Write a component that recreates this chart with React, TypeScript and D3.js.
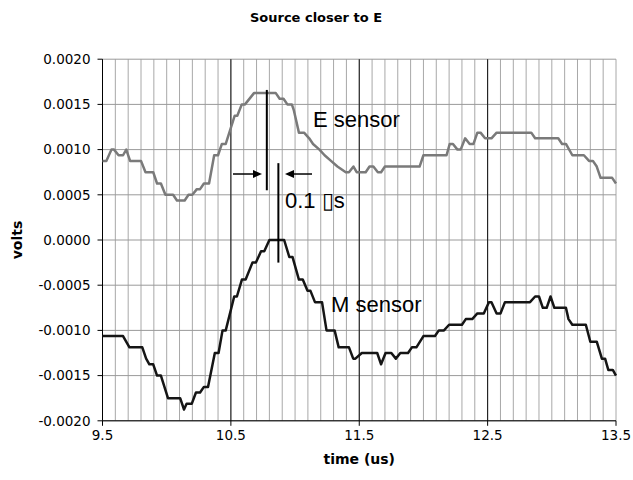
import React from "react";
import * as d3 from "d3";

const chartTitle = "Source closer to E";
const xTitle = "time (us)";
const yTitle = "volts";
const xTicks = [9.5, 10.5, 11.5, 12.5, 13.5];
const yTicks = [0.002, 0.0015, 0.001, 0.0005, 0, -0.0005, -0.001, -0.0015, -0.002];
const majorX = [10.5, 11.5, 12.5];

const eTime = [9.5, 9.53, 9.57, 9.59, 9.625, 9.66, 9.685, 9.715, 9.8, 9.835, 9.895, 9.925, 9.955, 9.99, 10.05, 10.08, 10.14, 10.17, 10.2, 10.235, 10.26, 10.29, 10.33, 10.37, 10.4, 10.43, 10.46, 10.53, 10.55, 10.585, 10.61, 10.68, 10.85, 10.88, 10.91, 10.94, 10.975, 10.99, 11.03, 11.07, 11.11, 11.14, 11.19, 11.23, 11.28, 11.33, 11.395, 11.42, 11.455, 11.48, 11.55, 11.58, 11.61, 11.645, 11.67, 11.7, 11.97, 12.0, 12.18, 12.205, 12.23, 12.265, 12.29, 12.325, 12.36, 12.39, 12.42, 12.445, 12.48, 12.53, 12.57, 12.84, 12.87, 13.05, 13.08, 13.11, 13.16, 13.25, 13.29, 13.32, 13.35, 13.38, 13.47, 13.5];
const eVolts = [0.000875, 0.000875, 0.001, 0.001, 0.0009375, 0.0009375, 0.001, 0.000875, 0.000875, 0.00075, 0.00075, 0.000625, 0.000625, 0.0005, 0.0005, 0.0004375, 0.0004375, 0.0005, 0.0005, 0.0005625, 0.0005625, 0.000625, 0.000625, 0.0009375, 0.0009375, 0.0010625, 0.0010625, 0.001375, 0.001375, 0.0015, 0.0015, 0.001625, 0.001625, 0.0015625, 0.0015625, 0.0015, 0.0015, 0.0014375, 0.0011875, 0.0011875, 0.001125, 0.0010625, 0.001, 0.0009375, 0.000875, 0.0008125, 0.00075, 0.00075, 0.0008125, 0.00075, 0.00075, 0.0008125, 0.0008125, 0.00075, 0.00075, 0.0008125, 0.0008125, 0.0009375, 0.0009375, 0.0010625, 0.0010625, 0.001, 0.001, 0.001125, 0.0010625, 0.0010625, 0.0011875, 0.0011875, 0.001125, 0.001125, 0.0011875, 0.0011875, 0.001125, 0.001125, 0.0010625, 0.0010625, 0.0009375, 0.0009375, 0.000875, 0.000875, 0.0008125, 0.0006875, 0.0006875, 0.000625];

const mTime = [9.5, 9.66, 9.71, 9.81, 9.84, 9.865, 9.895, 9.925, 9.955, 10.01, 10.105, 10.135, 10.155, 10.195, 10.228, 10.26, 10.29, 10.322, 10.375, 10.404, 10.435, 10.46, 10.526, 10.547, 10.586, 10.615, 10.668, 10.695, 10.735, 10.76, 10.8, 10.915, 10.955, 10.98, 11.03, 11.06, 11.097, 11.12, 11.155, 11.21, 11.245, 11.308, 11.34, 11.42, 11.453, 11.47, 11.52, 11.64, 11.67, 11.705, 11.75, 11.785, 11.82, 11.88, 11.91, 11.945, 12.0, 12.09, 12.12, 12.16, 12.2, 12.3, 12.33, 12.38, 12.42, 12.47, 12.51, 12.53, 12.57, 12.6, 12.635, 12.83, 12.87, 12.9, 12.93, 12.96, 12.99, 13.02, 13.11, 13.13, 13.16, 13.265, 13.3, 13.35, 13.39, 13.415, 13.44, 13.475, 13.5];
const mVolts = [-0.0010625, -0.0010625, -0.0011875, -0.0011875, -0.0013125, -0.001375, -0.001375, -0.0015, -0.0015, -0.00175, -0.00175, -0.001875, -0.0018125, -0.0018125, -0.0016875, -0.0016875, -0.001625, -0.001625, -0.00125, -0.00125, -0.001, -0.001, -0.000625, -0.000625, -0.0004375, -0.0004375, -0.00025, -0.00025, -0.000125, -0.000125, 0, 0, -0.0001875, -0.0001875, -0.0004375, -0.0004375, -0.0005625, -0.0005625, -0.0006875, -0.0006875, -0.001, -0.001, -0.0011875, -0.0011875, -0.0013125, -0.0013125, -0.00125, -0.00125, -0.001375, -0.00125, -0.00125, -0.0013125, -0.00125, -0.00125, -0.0011875, -0.0011875, -0.0010625, -0.0010625, -0.001, -0.001, -0.0009375, -0.0009375, -0.000875, -0.000875, -0.0008125, -0.0008125, -0.0006875, -0.0006875, -0.0008125, -0.0008125, -0.0006875, -0.0006875, -0.000625, -0.000625, -0.00075, -0.00075, -0.000625, -0.00075, -0.00075, -0.000875, -0.0009375, -0.0009375, -0.001125, -0.001125, -0.0013125, -0.0013125, -0.0014375, -0.0014375, -0.0015];

const W = 633;
const H = 480;
const left = 102.5;
const right = 616;
const top = 59.2;
const bottom = 420.8;

export default function App() {
  const x = d3.scaleLinear().domain([9.5, 13.5]).range([left, right]);
  const y = d3.scaleLinear().domain([-0.002, 0.002]).range([bottom, top]);
  const minorX = d3.range(0, 41).map((i) => 9.5 + i * 0.1);
  const line = d3
    .line<[number, number]>()
    .x((d) => x(d[0]))
    .y((d) => y(d[1]));
  const ePts = eTime.map((t, i) => [t, eVolts[i]] as [number, number]);
  const mPts = mTime.map((t, i) => [t, mVolts[i]] as [number, number]);
  const fmt = (v: number) => d3.format(".4f")(v).replace("\u2212", "-");
  const tickFont = "Verdana, 'DejaVu Sans', sans-serif";
  const annFont = "Arial, 'Liberation Sans', sans-serif";

  // annotation geometry (data coordinates)
  const v1x = x(10.78);
  const v2x = x(10.87);
  const arrowY = y(0.00073);

  return (
    <svg
      width={W}
      height={H}
      style={{ position: "absolute", left: 0, top: 0, background: "#fff" }}
    >
      <rect x={0} y={0} width={W} height={H} fill="#fff" />
      {minorX.map((t, i) => (
        <line
          key={"mx" + i}
          x1={x(t)}
          x2={x(t)}
          y1={top}
          y2={bottom}
          stroke="#a8a8a8"
          strokeWidth={1}
        />
      ))}
      {yTicks.map((v, i) => (
        <line
          key={"hy" + i}
          x1={left}
          x2={right}
          y1={y(v)}
          y2={y(v)}
          stroke="#9a9a9a"
          strokeWidth={1}
        />
      ))}
      {majorX.map((t, i) => (
        <line
          key={"Mx" + i}
          x1={x(t)}
          x2={x(t)}
          y1={top}
          y2={bottom}
          stroke="#111"
          strokeWidth={1}
        />
      ))}
      <line x1={left} x2={left} y1={top} y2={bottom} stroke="#000" strokeWidth={1} />
      <line x1={left} x2={right} y1={bottom} y2={bottom} stroke="#000" strokeWidth={1} />
      {yTicks.map((v, i) => (
        <g key={"yt" + i}>
          <line x1={left - 5} x2={left} y1={y(v)} y2={y(v)} stroke="#000" />
          <text
            x={left - 12}
            y={y(v)}
            dy="0.35em"
            textAnchor="end"
            fontFamily={tickFont}
            fontSize={13.5}
            fill="#000"
          >
            {fmt(v)}
          </text>
        </g>
      ))}
      {xTicks.map((t, i) => (
        <g key={"xt" + i}>
          <line x1={x(t)} x2={x(t)} y1={bottom} y2={bottom + 5} stroke="#000" />
          <text
            x={x(t)}
            y={bottom + 19}
            textAnchor="middle"
            fontFamily={tickFont}
            fontSize={13.5}
            fill="#000"
          >
            {t.toFixed(1)}
          </text>
        </g>
      ))}
      <path d={line(ePts) || ""} fill="none" stroke="#7a7a7a" strokeWidth={2.5} strokeLinejoin="round" />
      <path d={line(mPts) || ""} fill="none" stroke="#151515" strokeWidth={2.5} strokeLinejoin="round" />

      <line x1={v1x} x2={v1x} y1={y(0.00166)} y2={y(0.00055)} stroke="#000" strokeWidth={2} />
      <line x1={v2x} x2={v2x} y1={y(0.00085)} y2={y(-0.00025)} stroke="#000" strokeWidth={2} />
      <line x1={233} x2={254} y1={arrowY} y2={arrowY} stroke="#000" strokeWidth={1.5} />
      <path d={`M${262},${arrowY} L${253},${arrowY - 4} L${253},${arrowY + 4} Z`} fill="#000" />
      <line x1={312} x2={293} y1={arrowY} y2={arrowY} stroke="#000" strokeWidth={1.5} />
      <path d={`M${285},${arrowY} L${294},${arrowY - 4} L${294},${arrowY + 4} Z`} fill="#000" />
      <text x={313} y={127} fontFamily={annFont} fontSize={22} fill="#000">
        E sensor
      </text>
      <text x={331} y={312} fontFamily={annFont} fontSize={22} fill="#000">
        M sensor
      </text>
      <text x={285} y={208} fontFamily={annFont} fontSize={22} fill="#000">
        0.1 <tspan fontFamily="'DejaVu Sans'" fontWeight={100}>▯</tspan>s
      </text>

      <text
        x={316}
        y={22}
        textAnchor="middle"
        fontFamily={tickFont}
        fontWeight="bold"
        fontSize={13}
        fill="#000"
      >
        {chartTitle}
      </text>
      <text
        x={(left + right) / 2}
        y={464}
        textAnchor="middle"
        fontFamily={tickFont}
        fontWeight="bold"
        fontSize={14}
        fill="#000"
      >
        {xTitle}
      </text>
      <text
        transform={`translate(${22},${240}) rotate(-90)`}
        textAnchor="middle"
        fontFamily={tickFont}
        fontWeight="bold"
        fontSize={14}
        fill="#000"
      >
        {yTitle}
      </text>
    </svg>
  );
}
